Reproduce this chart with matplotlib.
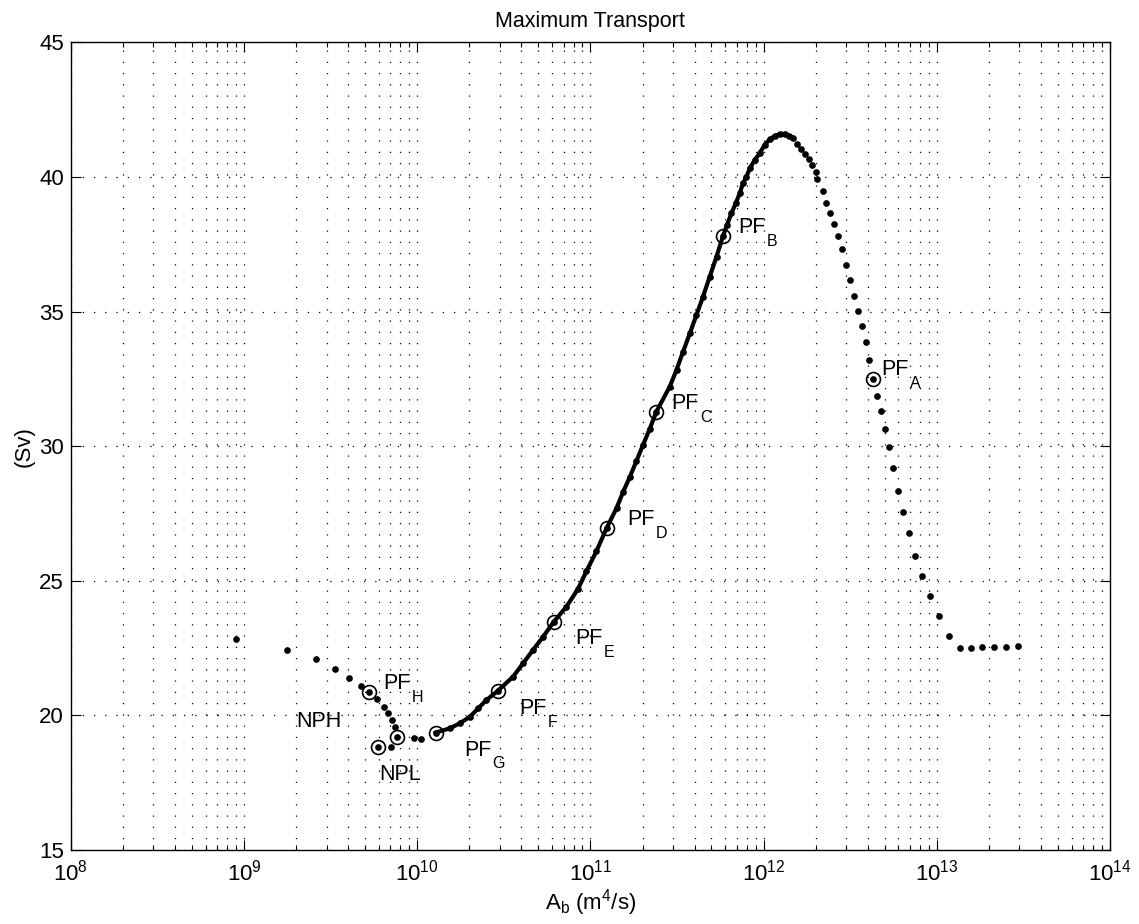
import matplotlib
matplotlib.use("Agg")
import matplotlib.pyplot as plt
from matplotlib.ticker import LogLocator, NullFormatter, MultipleLocator, LogFormatterSciNotation

plt.rcParams['font.family'] = ['Liberation Sans', 'DejaVu Sans']
plt.rcParams['mathtext.fontset'] = 'custom'
plt.rcParams['mathtext.rm'] = 'Liberation Sans'
plt.rcParams['mathtext.it'] = 'Liberation Sans:italic'
plt.rcParams['mathtext.bf'] = 'Liberation Sans:bold'

# left sparse branch (down to NPL)
ab_left = [8.99e8, 1.78e9, 2.59e9, 3.37e9, 4.06e9, 4.71e9, 5.26e9, 5.83e9, 6.40e9,
           6.75e9, 7.14e9, 7.43e9, 7.60e9, 7.05e9, 5.98e9, 9.62e9, 1.047e10]
sv_left = [22.84, 22.43, 22.08, 21.72, 21.40, 21.10, 20.86, 20.60, 20.32,
           20.08, 19.83, 19.58, 19.19, 18.81, 18.84, 19.15, 19.11]

# dense middle branch
ab_mid = [1.28e10, 1.545e10, 1.766e10, 2.018e10, 2.249e10, 2.512e10, 2.931e10, 3.581e10,
          4.093e10, 4.667e10, 5.333e10, 6.152e10, 7.278e10, 8.49e10, 9.48e10, 1.084e11,
          1.239e11, 1.416e11, 1.545e11, 1.687e11, 1.845e11, 2.014e11, 2.203e11, 2.404e11,
          2.871e11, 3.141e11, 3.428e11, 3.75e11, 4.093e11, 4.467e11, 4.887e11, 5.346e11,
          5.834e11, 6.152e11, 6.516e11, 6.902e11, 7.278e11, 7.603e11, 7.962e11, 8.318e11,
          8.892e11, 9.484e11, 1.014e12, 1.084e12, 1.159e12, 1.239e12, 1.324e12, 1.403e12,
          1.479e12]
sv_mid = [19.36, 19.52, 19.71, 19.95, 20.26, 20.57, 20.92, 21.44,
          21.94, 22.43, 22.92, 23.48, 24.04, 24.70, 25.35, 26.10,
          26.95, 27.70, 28.30, 28.85, 29.45, 30.05, 30.65, 31.28,
          32.21, 32.83, 33.51, 34.19, 34.87, 35.55, 36.30, 37.04,
          37.81, 38.22, 38.65, 39.02, 39.39, 39.77, 40.01, 40.32,
          40.63, 40.88, 41.19, 41.40, 41.52, 41.59, 41.60, 41.53,
          41.44]

# right sparse branch
ab_right = [1.56e12, 1.652e12, 1.742e12, 1.828e12, 1.914e12, 2.0e12, 2.046e12, 2.203e12,
            2.301e12, 2.427e12, 2.564e12, 2.704e12, 2.831e12, 2.979e12, 3.17e12, 3.311e12,
            3.508e12, 3.681e12, 3.882e12, 4.083e12, 4.276e12, 4.508e12, 4.753e12, 5.012e12,
            5.297e12, 5.61e12, 5.97e12, 6.368e12, 6.871e12, 7.482e12, 8.241e12, 9.162e12,
            1.033e13, 1.175e13, 1.352e13, 1.574e13, 1.82e13, 2.133e13, 2.495e13, 2.938e13]
sv_right = [41.23, 41.03, 40.85, 40.67, 40.45, 40.20, 39.91, 39.48,
            39.02, 38.65, 38.24, 37.81, 37.31, 36.73, 36.17, 35.58,
            35.03, 34.48, 33.86, 33.20, 32.50, 31.88, 31.31, 30.65,
            29.96, 29.18, 28.35, 27.56, 26.79, 25.92, 25.17, 24.44,
            23.69, 22.95, 22.50, 22.51, 22.54, 22.53, 22.53, 22.57]

# circled points
circ_ab = [4.276e12, 5.834e11, 2.404e11, 1.239e11, 6.152e10, 2.931e10, 1.28e10, 5.26e9, 7.60e9, 5.98e9]
circ_sv = [32.50, 37.81, 31.28, 26.95, 23.48, 20.92, 19.36, 20.86, 19.19, 18.84]

# labels
pf_names = ['A', 'B', 'C', 'D', 'E', 'F', 'G', 'H']
pf_ab = [4.79e12, 7.11e11, 2.94e11, 1.63e11, 8.13e10, 3.88e10, 1.87e10, 6.37e9]
pf_sv = [32.83, 38.12, 31.57, 27.26, 22.86, 20.25, 18.71, 21.19]
other_names = ['NPH', 'NPL']
other_ab = [2.01e9, 6.04e9]
other_sv = [19.79, 17.79]

x_ticks = [1e8, 1e9, 1e10, 1e11, 1e12, 1e13, 1e14]
y_ticks = [15, 20, 25, 30, 35, 40, 45]

fig = plt.figure(figsize=(11.39, 9.24), dpi=100)
ax = fig.add_axes([0.0621, 0.0801, 0.9125, 0.8741])

ax.plot(ab_mid, sv_mid, '-', color='k', lw=3.0, zorder=3)
dot = dict(ls='none', marker='o', ms=3.8, color='k', zorder=4)
ax.plot(ab_left, sv_left, **dot)
ax.plot(ab_mid, sv_mid, **dot)
ax.plot(ab_right, sv_right, **dot)
ax.plot(circ_ab, circ_sv, ls='none', marker='o', ms=10, mfc='none', mec='k', mew=1.2, zorder=5)

for name, x, y in zip(pf_names, pf_ab, pf_sv):
    ax.text(x, y, 'PF', fontsize=15.5, ha='left', va='center')
    ax.annotate(name, xy=(x, y), xytext=(20.5, -10), textcoords='offset points',
                fontsize=11.5, ha='left', va='center')
for name, x, y in zip(other_names, other_ab, other_sv):
    ax.text(x, y, name, fontsize=15.5, ha='left', va='center')

ax.set_xscale('log')
ax.set_xlim(x_ticks[0], x_ticks[-1])
ax.set_ylim(y_ticks[0], y_ticks[-1])
ax.set_xticks(x_ticks)
ax.xaxis.set_major_formatter(LogFormatterSciNotation())
ax.set_yticks(y_ticks)
ax.xaxis.set_minor_locator(LogLocator(base=10, subs=range(2, 10), numticks=100))
ax.xaxis.set_minor_formatter(NullFormatter())

grid_ls = (0, (1, 8))
ax.grid(True, which='both', axis='x', color='k', ls=grid_ls, lw=0.9)
ax.grid(True, which='major', axis='y', color='k', ls=grid_ls, lw=0.9)
ax.set_axisbelow(True)

ax.tick_params(which='both', direction='in', top=True, right=True, width=0.8, labelsize=16)
ax.tick_params(which='major', length=7.5)
ax.tick_params(which='minor', length=3.6)
ax.tick_params(axis='x', pad=7)
ax.tick_params(axis='y', pad=5)
for s in ax.spines.values():
    s.set_linewidth(1.0)

ax.set_title('Maximum Transport', fontsize=15.5, pad=11)
ax.set_xlabel(r'A$_{\mathregular{b}}$ (m$^{\mathregular{4}}$/s)', fontsize=16, labelpad=1)
ax.set_ylabel('(Sv)', fontsize=16, labelpad=3)

fig.savefig('out.png', dpi=100)
